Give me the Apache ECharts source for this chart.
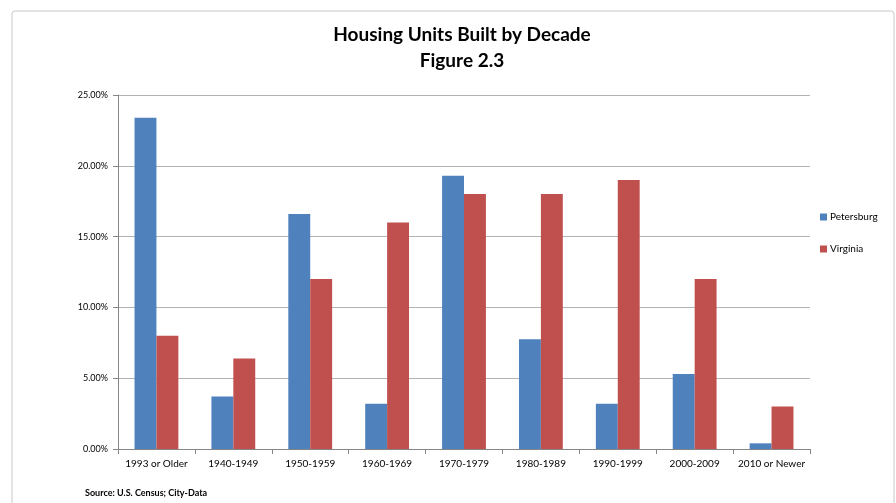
<!DOCTYPE html>
<html>
<head>
<meta charset="utf-8">
<script src="https://cdn.jsdelivr.net/npm/echarts@6/dist/echarts.min.js"></script>
<style>
  html, body { margin: 0; padding: 0; background: #fff; }
  #chart { width: 896px; height: 503px; }
</style>
</head>
<body>
<div id="chart"></div>
<script>
// data
const decades = ['1993 or Older', '1940-1949', '1950-1959', '1960-1969', '1970-1979', '1980-1989', '1990-1999', '2000-2009', '2010 or Newer']
const petersburg = [23.4, 3.7, 16.6, 3.2, 19.3, 7.75, 3.2, 5.3, 0.4]
const virginia = [8.0, 6.4, 12.0, 16.0, 18.0, 18.0, 19.0, 12.0, 3.0]

const chart = echarts.init(document.getElementById('chart'))
const font = 'Lato, "Open Sans", sans-serif'

chart.setOption({
  animation: false,
  title: {
    text: 'Housing Units Built by Decade\nFigure 2.3',
    left: 457,
    textAlign: 'center',
    top: 17,
    textStyle: { fontFamily: font, fontSize: 19, fontWeight: 'bold', color: '#000', lineHeight: 26 }
  },
  legend: {
    orient: 'vertical',
    left: 815,
    top: 207,
    itemWidth: 7,
    itemHeight: 7,
    itemGap: 22,
    icon: 'rect',
    textStyle: { fontFamily: font, fontSize: 10, color: '#000', padding: [0, 0, 0, -2] },
    data: ['Petersburg', 'Virginia']
  },
  grid: { left: 118, right: 86, top: 95, bottom: 54 },
  xAxis: {
    type: 'category',
    data: decades,
    axisLine: { lineStyle: { color: '#868686' } },
    axisTick: { show: true, length: 5, lineStyle: { color: '#868686' } },
    axisLabel: { interval: 0, color: '#000', fontFamily: font, fontSize: 10, margin: 10 }
  },
  yAxis: {
    type: 'value',
    min: 0,
    max: 25,
    interval: 5,
    axisLine: { show: true, lineStyle: { color: '#868686' } },
    axisTick: { show: true, length: 5, lineStyle: { color: '#868686' } },
    axisLabel: {
      color: '#000', fontFamily: font, fontSize: 9, margin: 10,
      formatter: v => v.toFixed(2) + '%'
    },
    splitLine: { lineStyle: { color: '#b3b3b3', width: 1 } }
  },
  graphic: [
    {
      type: 'rect',
      shape: { x: 12, y: 11, width: 882, height: 500, r: 3 },
      style: { fill: 'none', stroke: '#c8c8c8', lineWidth: 1 },
      z: -1
    },
    {
      type: 'text',
      left: 85,
      top: 489,
      style: { text: 'Source: U.S. Census; City-Data', fill: '#000', font: 'bold 9px ' + font }
    }
  ],
  series: [
    {
      name: 'Petersburg',
      type: 'bar',
      data: petersburg,
      itemStyle: { color: '#4f81bd' },
      barGap: '0%',
      barCategoryGap: '43%'
    },
    {
      name: 'Virginia',
      type: 'bar',
      data: virginia,
      itemStyle: { color: '#c0504d' }
    }
  ]
})
</script>
</body>
</html>
